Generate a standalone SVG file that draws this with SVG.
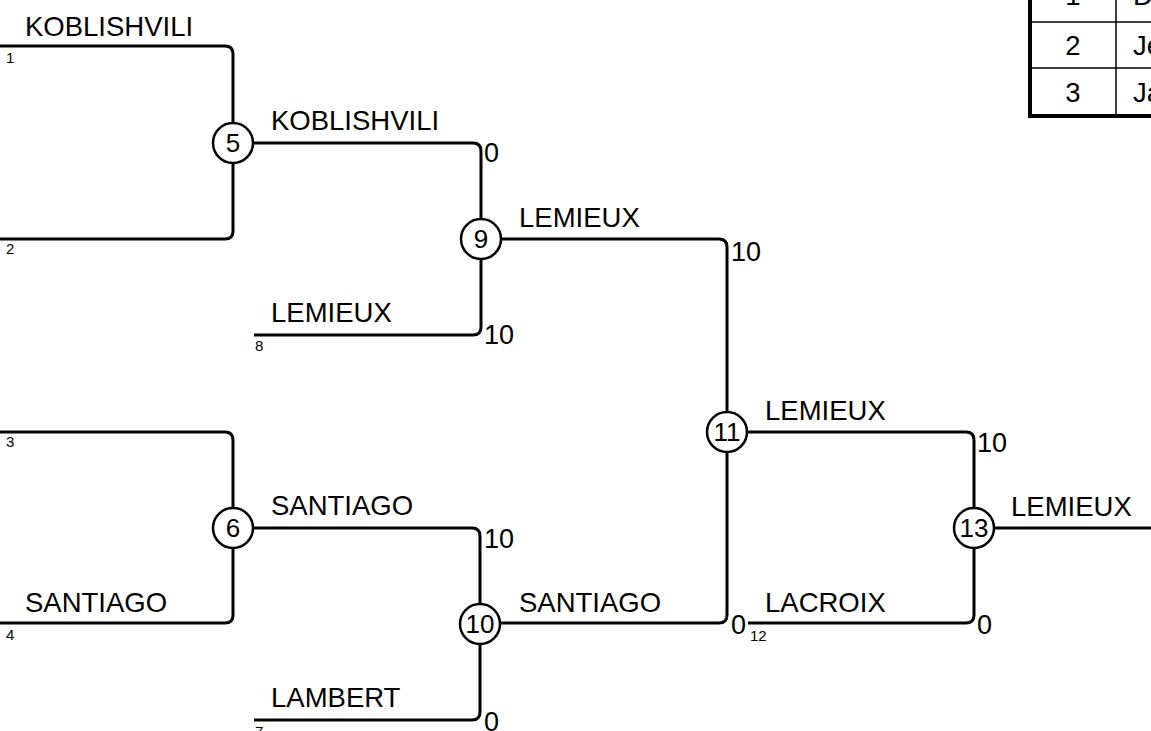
<svg xmlns="http://www.w3.org/2000/svg" width="1151" height="731" viewBox="0 0 1151 731">
<style>
text{font-family:"Liberation Sans",Arial,sans-serif;fill:#000}
.nm{font-size:27.5px}
.sc{font-size:27px}
.sm{font-size:15px}
.ln{fill:none;stroke:#000;stroke-width:3}
.nd circle{fill:#fff;stroke:#000;stroke-width:2.5}
.nd text{font-size:26px;text-anchor:middle}
.tb{fill:none;stroke:#000}
</style>
<rect width="1151" height="731" fill="#fff"/>
<g id="connectors">
<path class="ln" d="M0,46 H225 Q233,46 233,54 V123"/>
<path class="ln" d="M0,239 H225 Q233,239 233,231 V163"/>
<path class="ln" d="M253,143 H473 Q481,143 481,151 V219"/>
<path class="ln" d="M254,335 H473 Q481,335 481,327 V259"/>
<path class="ln" d="M501,239 H719 Q727,239 727,247 V412"/>
<path class="ln" d="M727,452 V615 Q727,623 719,623 H500"/>
<path class="ln" d="M0,432 H225 Q233,432 233,440 V508"/>
<path class="ln" d="M0,623 H225 Q233,623 233,615 V548"/>
<path class="ln" d="M253,528 H472 Q480,528 480,536 V604"/>
<path class="ln" d="M480,644 V712 Q480,720 472,720 H254"/>
<path class="ln" d="M747,432 H966 Q974,432 974,440 V508"/>
<path class="ln" d="M748,623 H966 Q974,623 974,615 V548"/>
<path class="ln" d="M994,528 H1151"/>
</g>
<g id="labels">
<text class="nm" x="25" y="36">KOBLISHVILI</text>
<text class="sm" x="6" y="63">1</text>
<text class="sm" x="6" y="254">2</text>
<text class="nm" x="271" y="130">KOBLISHVILI</text>
<text class="sc" x="484" y="162">0</text>
<text class="nm" x="271" y="322">LEMIEUX</text>
<text class="sm" x="255" y="351">8</text>
<text class="sc" x="484" y="344">10</text>
<text class="nm" x="519" y="227">LEMIEUX</text>
<text class="sc" x="731" y="261">10</text>
<text class="sm" x="6" y="447">3</text>
<text class="sm" x="6" y="640">4</text>
<text class="nm" x="25" y="612">SANTIAGO</text>
<text class="nm" x="271" y="515">SANTIAGO</text>
<text class="sc" x="484" y="548">10</text>
<text class="nm" x="271" y="707">LAMBERT</text>
<text class="sm" x="255" y="737">7</text>
<text class="sc" x="484" y="731">0</text>
<text class="nm" x="519" y="612">SANTIAGO</text>
<text class="sc" x="731" y="634">0</text>
<text class="nm" x="765" y="420">LEMIEUX</text>
<text class="sc" x="977" y="452">10</text>
<text class="nm" x="765" y="612">LACROIX</text>
<text class="sm" x="750" y="641">12</text>
<text class="sc" x="977" y="634">0</text>
<text class="nm" x="1011" y="516">LEMIEUX</text>
</g>
<g id="n5" class="nd"><circle cx="233" cy="143" r="20"/><text x="233" y="152">5</text></g>
<g id="n9" class="nd"><circle cx="481" cy="239" r="20"/><text x="481" y="248">9</text></g>
<g id="n6" class="nd"><circle cx="233" cy="528" r="20"/><text x="233" y="537">6</text></g>
<g id="n10" class="nd"><circle cx="480" cy="624" r="20"/><text x="480" y="633">10</text></g>
<g id="n11" class="nd"><circle cx="727" cy="432" r="20"/><text x="727" y="441">11</text></g>
<g id="n13" class="nd"><circle cx="974" cy="528" r="20"/><text x="974" y="537">13</text></g>
<g id="table">
<rect x="1030" y="-30" width="140" height="146" fill="#fff" stroke="#000" stroke-width="4"/>
<line class="tb" x1="1030" y1="22" x2="1151" y2="22" stroke-width="1.5"/>
<line class="tb" x1="1030" y1="68" x2="1151" y2="68" stroke-width="1.5"/>
<line class="tb" x1="1116" y1="-30" x2="1116" y2="116" stroke-width="1.5"/>
<text class="nm" x="1073" y="5" text-anchor="middle">1</text>
<text class="nm" x="1073" y="55" text-anchor="middle">2</text>
<text class="nm" x="1073" y="102" text-anchor="middle">3</text>
<text class="nm" x="1133" y="5">D</text>
<text class="nm" x="1133" y="55">Je</text>
<text class="nm" x="1133" y="102">Ja</text>
</g>
</svg>
